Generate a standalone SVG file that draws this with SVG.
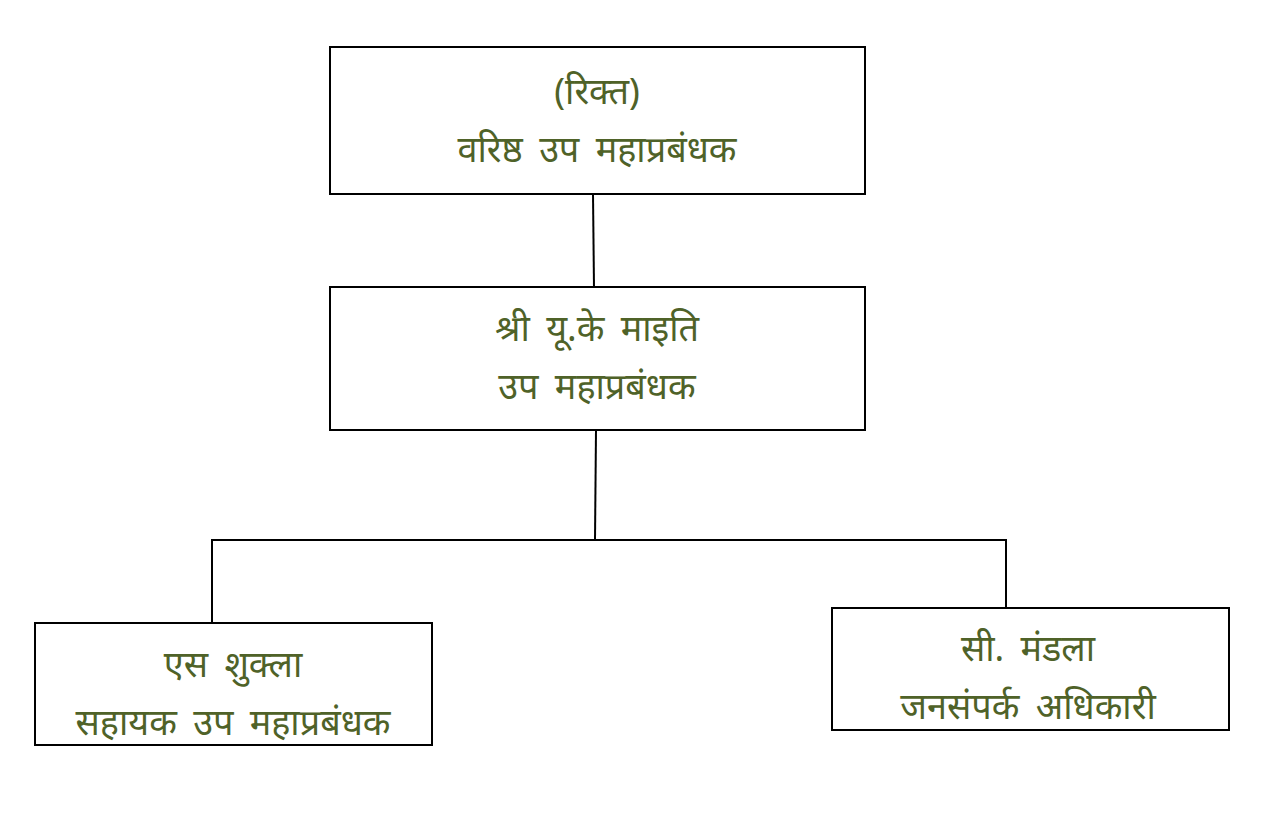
<svg xmlns="http://www.w3.org/2000/svg" width="1270" height="821" viewBox="0 0 1270 821">
<style>
.box{fill:#fff;stroke:#000;stroke-width:2}
.t{font-family:"Noto Sans","DejaVu Sans",sans-serif;font-size:36px;fill:#4f6228;text-anchor:middle;word-spacing:7px}
.c{stroke:#000;stroke-width:2;fill:none}
</style>
<rect width="1270" height="821" fill="#fff"/>
<g id="connectors">
<line class="c" x1="593" y1="194" x2="594" y2="287"/>
<line class="c" x1="596" y1="430" x2="595" y2="540"/>
<polyline class="c" points="212,623 212,540 1006,540 1006,608"/>
</g>
<g id="node1">
<rect class="box" x="330" y="47" width="535" height="147"/>
<text class="t" x="597" y="104">(रिक्त)</text>
<text class="t" x="597" y="162" word-spacing="10px">वरिष्ठ उप महाप्रबंधक</text>
</g>
<g id="node2">
<rect class="box" x="330" y="287" width="535" height="143"/>
<text class="t" x="597" y="341">श्री यू.के माइति</text>
<text class="t" x="597" y="399">उप महाप्रबंधक</text>
</g>
<g id="node3">
<rect class="box" x="35" y="623" width="397" height="122"/>
<text class="t" x="233" y="677">एस शुक्ला</text>
<text class="t" x="233" y="735">सहायक उप महाप्रबंधक</text>
</g>
<g id="node4">
<rect class="box" x="832" y="608" width="397" height="122"/>
<text class="t" x="1028" y="661">सी. मंडला</text>
<text class="t" x="1028" y="719">जनसंपर्क अधिकारी</text>
</g>
</svg>
